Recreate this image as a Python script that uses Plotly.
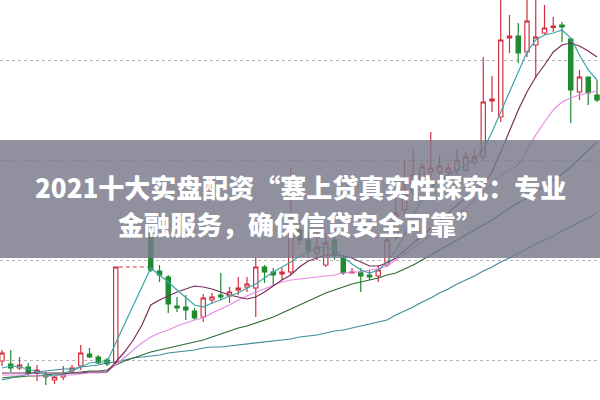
import plotly.graph_objects as go

# price units: value = 400 - pixel row in the reference
idx = list(range(69))
# pixel rows (open, close, high, low); None = no candle
O_pix = [361,364,368,367,373,375,380,377,371,366,354,357,360,362,None,None,None,
         233,271,277,306,307,311,317,300,295,296,290,287,288,267,272,274,272,
         230,240,253,265,240,257,273,272,275,276,265,237,210,190,180,172,172,172,
         170,170,163,157,101,117,38,36,52,45,33,27.5,25,39,92,77,95]
C_pix = [353,368,365,373,370,377,377,374,368,353,357,363,364,267,None,None,None,
         270,275,304,308,310,318,298,297,297,292,288,284,267,272,275,272,230,
         240,250,247,243,255,273,272,276,277,270,240,213,190,175,167,168,166,168,
         160,157,157,102,99,40,36,53,21,37,28,26,27,90,77,93,100]
H_pix = [350,350,357,363,365,372,376,366,365,345,348,355,358,267,None,None,None,
         227,265,275,297,295,308,294,293,273,287,277,277,257,265,268,268,168,
         225,232,232,233,233,255,268,268,270,265,238,193,160,150,163,132,155,163,
         150,152,150,57,76,-5,15,23,-5,-2,5,17,22,38,70,77,80]
L_pix = [366,372,370,375,381,385,384,380,373,370,358,364,366,365,None,None,None,
         272,282,313,312,320,320,322,304,300,303,295,292,317,283,285,280,275,
         245,257,260,267,260,275,273,292,280,282,267,240,215,195,185,178,180,176,
         175,172,165,160,112,122,53,63,57,78,35,32,42,123,100,105,102]

# one-price limit-up days (drawn as a dashed level)
limit_x = [13.35, 16.65]
limit_pix = [267, 267]

# moving averages (pixel rows) at the candle indices
ma5_pix = [368,366,367,369,372,375,376,373,371,367,363,362,362,343,324,305,287,
           268,275,282,290,298,305,307,303,300,296,293,288,284,278,272,267,262,
           256,252,248,247,250,257,264,270,273,270,262,250,235,215,200,188,180,
           175,170,165,160,150,132,112,92,72,52,40,35,33,30,38,55,70,80]
ma10_pix = [373,373,373,373,373,373,373,373,373,373,372,372,372,362,352,340,325,
            305,300,296,292,289,286,287,289,292,295,297,299,297,292,286,280,275,
            267,261,258,255,255,256,258,262,266,266,263,258,250,243,236,228,220,
            212,205,198,192,185,172,152,130,110,92,77,65,52,45,43,46,51,57]
ma20_pix = [375,375,375,375,376,376,376,375,375,374,373,373,372,365,357,350,343,
            337,333,330,326,323,320,318,313,309,305,300,296,292,289,285,282,280,
            279,278,277,276,275,273,272,272,270,269,266,260,254,248,242,235,229,
            222,215,208,200,192,184,175,170,165,150,135,122,110,102,98,95,93,91]
ma30_pix = [378,377,377,376,376,375,374,374,373,372,371,371,370,365,361,358,355,
            352,350,348,346,344,342,340,337,334,331,328,326,323,320,317,313,309,
            305,301,297,293,290,287,284,282,280,278,275,273,269,265,260,255,250,
            245,240,235,230,225,220,214,208,203,198,192,186,180,174,167,159,150,142]
ma60_pix = [380,378,376,374,372,371,370,369,369,367,366,365,363,362,360,358,357,
            356,355,353,352,351,350,348,347,347,346,345,344,343,342,341,340,339,
            337,336,335,333,331,330,328,326,324,322,320,315,311,307,302,298,293,
            289,284,280,276,271,267,262,258,253,249,244,240,236,231,227,222,218,213]

title_line1 = "2021十大实盘配资“塞上贷真实性探究：专业"
title_line2 = "金融服务，确保信贷安全可靠”"

def pv(seq):
    return [None if v is None else 400 - v for v in seq]

RED = "#d2303f"
GREEN = "#1f8a2f"

fig = go.Figure()
fig.add_trace(go.Scatter(x=idx, y=pv(ma60_pix), mode="lines", line=dict(color="#3f8c9c", width=1.2), hoverinfo="skip"))
fig.add_trace(go.Scatter(x=idx, y=pv(ma30_pix), mode="lines", line=dict(color="#2f6b35", width=1.2), hoverinfo="skip"))
fig.add_trace(go.Scatter(x=idx, y=pv(ma20_pix), mode="lines", line=dict(color="#e58be6", width=1.2), hoverinfo="skip"))
fig.add_trace(go.Scatter(x=idx, y=pv(ma10_pix), mode="lines", line=dict(color="#7a2e5c", width=1.2), hoverinfo="skip"))
fig.add_trace(go.Candlestick(
    x=idx, open=pv(O_pix), close=pv(C_pix), high=pv(H_pix), low=pv(L_pix),
    increasing=dict(line=dict(color=RED, width=1.2), fillcolor="white"),
    decreasing=dict(line=dict(color=GREEN, width=1.2), fillcolor=GREEN),
    whiskerwidth=0, hoverinfo="skip"))
fig.add_trace(go.Scatter(x=limit_x, y=pv(limit_pix), mode="lines",
                         line=dict(color=RED, width=1.2, dash="4px,3px"), hoverinfo="skip"))
fig.add_trace(go.Scatter(x=idx, y=pv(ma5_pix), mode="lines", line=dict(color="#3aa6a8", width=1.2), hoverinfo="skip"))

title_font = dict(family="Noto Sans CJK SC", size=26, color="white", weight=900)
fig.update_layout(
    width=600, height=400, margin=dict(l=0, r=0, t=0, b=0),
    paper_bgcolor="white", plot_bgcolor="white", showlegend=False,
    boxgap=0.3,
    xaxis=dict(range=[-2/8.75, 598/8.75], showgrid=False, zeroline=False,
               showticklabels=False, rangeslider=dict(visible=False), fixedrange=True),
    yaxis=dict(range=[0, 400], showgrid=True, gridcolor="#b4b4b4", griddash="dot",
               tick0=40, dtick=100, zeroline=False, showticklabels=False, fixedrange=True),
    shapes=[dict(type="rect", xref="paper", yref="paper", x0=0, x1=1,
                 y0=1-258/400, y1=1-140/400, fillcolor="rgba(122,121,138,0.83)",
                 line=dict(width=0), layer="above")],
    annotations=[
        dict(text=title_line1, xref="paper", yref="paper", x=0.5, y=1-186/400,
             showarrow=False, font=title_font, xanchor="center", yanchor="middle"),
        dict(text=title_line2, xref="paper", yref="paper", x=0.5, y=1-223/400,
             showarrow=False, font=title_font, xanchor="center", yanchor="middle"),
    ],
)
fig.write_html("out.html", config={"displayModeBar": False},
               post_script="document.body.style.margin='0';document.body.style.padding='0';")
